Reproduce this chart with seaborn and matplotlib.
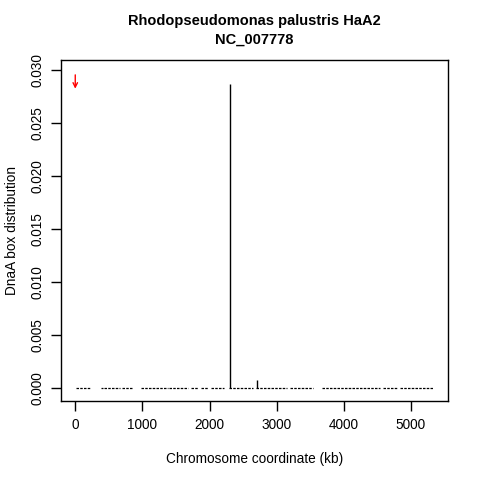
import matplotlib
matplotlib.use("Agg")
import matplotlib.pyplot as plt
import seaborn as sns
import numpy as np

title = "Rhodopseudomonas palustris HaA2\nNC_007778"
xlabel = "Chromosome coordinate (kb)"
ylabel = "DnaA box distribution"

# spikes (kb, value)
spike_pos = [2300, 2700]
spike_val = [0.0286, 0.00075]

# low-level signal segments along the chromosome (start kb, end kb)
seg_start = [15, 385, 430, 700, 980, 1395, 1720, 1870, 2020, 2285, 2685, 3205, 3680, 4585, 4840]
seg_end = [237, 415, 660, 860, 1380, 1680, 1825, 1975, 2210, 2655, 3160, 3545, 4540, 4790, 5325]
seg_val = 0.00005

xticks = [0, 1000, 2000, 3000, 4000, 5000]
yticks = [0.000, 0.005, 0.010, 0.015, 0.020, 0.025, 0.030]
ytick_labels = ["0.000", "0.005", "0.010", "0.015", "0.020", "0.025", "0.030"]

sns.set_theme(style="ticks")
plt.rcParams["font.family"] = ["Liberation Sans", "DejaVu Sans"]
plt.rcParams["text.color"] = "black"
plt.rcParams["axes.labelcolor"] = "black"

fig = plt.figure(figsize=(4.8, 4.8), dpi=100)
ax = fig.add_axes([0.127, 0.1646, 0.806, 0.7104])

ax.hlines([seg_val] * len(seg_start), seg_start, seg_end, colors="black",
          linewidth=0.9, linestyles=(0, (2, 1)))
ax.vlines(spike_pos, 0, spike_val, colors="black", linewidth=1.0)

ax.annotate("", xy=(0, 0.0282), xytext=(0, 0.0295),
            arrowprops=dict(arrowstyle="->", color="red", lw=1.0,
                            mutation_scale=8, shrinkA=0, shrinkB=0))

ax.set_xlim(-213, 5550)
ax.set_ylim(-0.00119, 0.0309)
ax.set_xticks(xticks)
ax.set_xticklabels([str(t) for t in xticks])
ax.set_yticks(yticks)
ax.set_yticklabels(ytick_labels, rotation=90, va="center")

for s in ax.spines.values():
    s.set_visible(True)
    s.set_color("black")
    s.set_linewidth(1.0)

ax.tick_params(axis="both", direction="out", length=7, width=1.0,
               colors="black", labelsize=9.8, pad=5)
ax.set_xlabel(xlabel, fontsize=9.8, labelpad=15, color="black")
ax.set_ylabel(ylabel, fontsize=9.8, labelpad=8, color="black")
ax.set_title(title, fontsize=10.5, fontweight="bold", pad=12, linespacing=1.35,
             color="black")

fig.savefig("out.png", dpi=100)
